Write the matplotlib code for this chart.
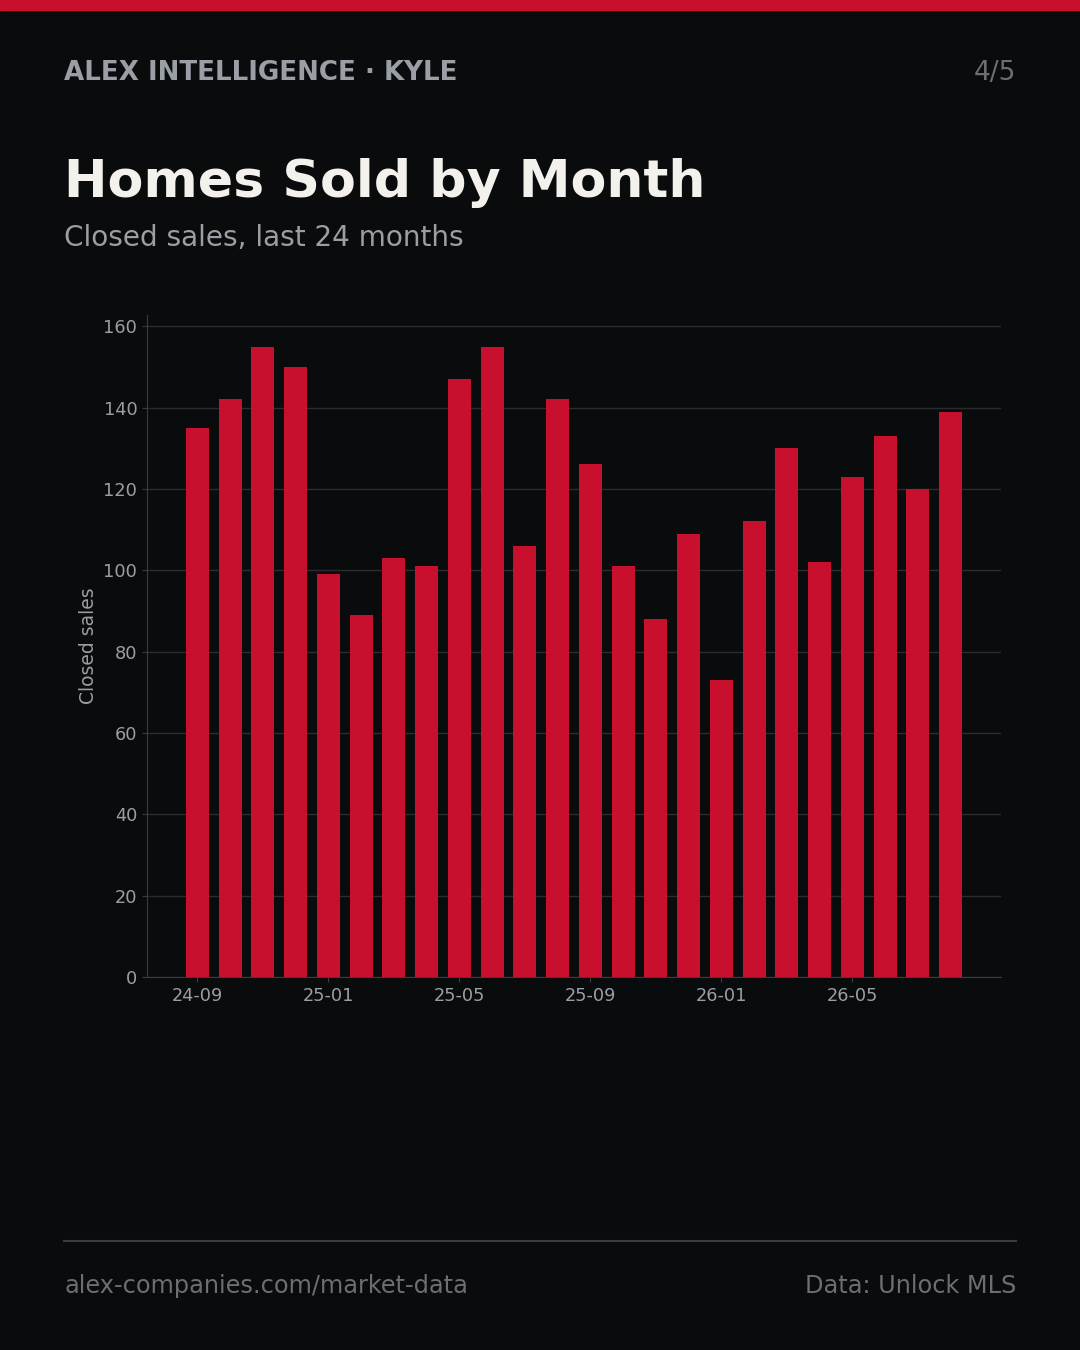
import matplotlib
matplotlib.use("Agg")
import matplotlib.pyplot as plt
import numpy as np

months = ["24-09", "24-10", "24-11", "24-12", "25-01", "25-02", "25-03", "25-04",
          "25-05", "25-06", "25-07", "25-08", "25-09", "25-10", "25-11", "25-12",
          "26-01", "26-02", "26-03", "26-04", "26-05", "26-06", "26-07", "26-08"]
sales = [135, 142, 155, 150, 99, 89, 103, 101, 147, 155, 106, 142,
         126, 101, 88, 109, 73, 112, 130, 102, 123, 133, 120, 139]

BG = "#0a0b0d"
RED = "#c8102e"
GRAY = "#9a9ea5"
DIM = "#6b6e73"

plt.rcParams["font.family"] = "DejaVu Sans"

fig = plt.figure(figsize=(10.8, 13.5), dpi=100, facecolor=BG)

# top accent bar
fig.patches.append(plt.Rectangle((0, 1 - 10 / 1350), 1, 10 / 1350,
                                 transform=fig.transFigure, color=RED, zorder=5))

fig.text(64 / 1080, 1 - 73 / 1350, "ALEX INTELLIGENCE · KYLE", color=GRAY,
         fontsize=18.8, fontweight="bold", va="center", ha="left")
fig.text(1016 / 1080, 1 - 73 / 1350, "4/5", color=DIM, fontsize=19,
         va="center", ha="right")
fig.text(64 / 1080, 1 - 183 / 1350, "Homes Sold by Month", color="#f3f1ec",
         fontsize=37.5, fontweight="bold", va="center", ha="left")
fig.text(64 / 1080, 1 - 238 / 1350, "Closed sales, last 24 months", color=GRAY,
         fontsize=20.1, va="center", ha="left")

ax = fig.add_axes([147 / 1080, 1 - 977 / 1350, 854 / 1080, 662 / 1350])
ax.set_facecolor(BG)
x = np.arange(len(months))
ax.bar(x, sales, width=0.7, color=RED, zorder=3)
ax.set_xticks(x[::4])
ax.set_xticklabels(months[::4])
ax.set_ylabel("Closed sales", color=GRAY, fontsize=13.5)
ax.grid(axis="y", color="#2a2c30", linewidth=1, zorder=0)
ax.tick_params(colors=GRAY, labelsize=12.8)
ax.tick_params(axis="both", color="#3a3c40")
for s in ["top", "right"]:
    ax.spines[s].set_visible(False)
for s in ["left", "bottom"]:
    ax.spines[s].set_color("#3a3c40")

# footer
fig.add_artist(plt.Line2D([64 / 1080, 1016 / 1080], [1 - 1241 / 1350] * 2,
                          color="#3a3c40", linewidth=1.5))
fig.text(64 / 1080, 1 - 1286 / 1350, "alex-companies.com/market-data", color=DIM,
         fontsize=17.3, va="center", ha="left")
fig.text(1016 / 1080, 1 - 1286 / 1350, "Data: Unlock MLS", color=DIM,
         fontsize=17.3, va="center", ha="right")

fig.savefig("out.png", dpi=100, facecolor=BG)
